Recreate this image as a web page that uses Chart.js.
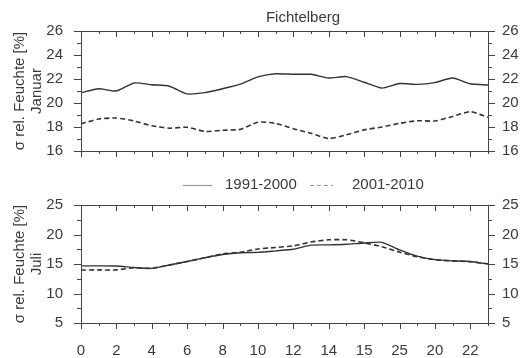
<!DOCTYPE html>
<html>
<head>
<meta charset="utf-8">
<script src="https://cdn.jsdelivr.net/npm/chart.js@4/dist/chart.umd.min.js"></script>
<style>
  html, body { margin: 0; padding: 0; background: #fff; }
  #wrap { position: relative; width: 528px; height: 358px; }
  canvas { position: absolute; left: 0; }
  #top { top: 0; }
  #bottom { top: 178px; }
</style>
</head>
<body>
<div id="wrap">
  <canvas id="top" width="528" height="178"></canvas>
  <canvas id="bottom" width="528" height="180"></canvas>
</div>
<script>
// Stunden 0..23
const hours = [0,1,2,3,4,5,6,7,8,9,10,11,12,13,14,15,16,17,18,19,20,21,22,23];
// Beschriftung der x-Achse (so wie im Original, inkl. "15" und "25")
const xTickLabels = ['0','2','4','6','8','10','12','14','15','25','20','22'];

const seriesLabels = ['1991-2000', '2001-2010'];

// Januar
const janOld = [20.86,21.19,21.0,21.67,21.52,21.4,20.76,20.86,21.19,21.57,22.18,22.44,
                22.39,22.39,22.08,22.2,21.73,21.24,21.62,21.55,21.7,22.08,21.6,21.5];
const janNew = [18.26,18.67,18.75,18.5,18.1,17.9,17.98,17.63,17.73,17.8,18.4,18.3,
                17.86,17.48,17.04,17.35,17.76,18.0,18.3,18.52,18.5,18.88,19.28,18.82];

// Juli
const julOld = [14.68,14.68,14.65,14.4,14.26,14.84,15.43,16.06,16.6,16.9,16.97,17.23,
                17.5,18.19,18.24,18.35,18.56,18.67,17.4,16.33,15.74,15.53,15.43,15.0];
const julNew = [13.99,14.0,14.0,14.36,14.26,14.84,15.43,16.06,16.7,17.0,17.55,17.8,
                18.08,18.72,19.1,19.1,18.6,17.93,17.02,16.22,15.74,15.53,15.37,15.05];

const INK = '#3a3a3a';
const FONT = "'Liberation Sans', Arial, sans-serif";

// Rahmen und Striche (innen oben, außen unten, außen links/rechts)
const frameTicks = {
    id: 'frameTicks',
    afterDraw(chart) {
        const ctx = chart.ctx;
        const a = chart.chartArea;
        const xs = chart.scales.x;
        const ys = chart.scales.y;
        ctx.save();
        ctx.strokeStyle = '#444';
        ctx.lineWidth = 1;
        ctx.strokeRect(Math.round(a.left) + 0.5, Math.round(a.top) + 0.5,
            Math.round(a.right - a.left), Math.round(a.bottom - a.top));
        ctx.beginPath();
        xs.ticks.forEach(t => {
            const px = Math.round(xs.getPixelForValue(t.value)) + 0.5;
            const len = t.value % 2 === 0 ? 6 : 3;
            ctx.moveTo(px, a.top);
            ctx.lineTo(px, a.top + len);
            ctx.moveTo(px, a.bottom);
            ctx.lineTo(px, a.bottom + len);
        });
        const yt = ys.ticks.map(t => t.value);
        yt.forEach((v, i) => {
            const py = Math.round(ys.getPixelForValue(v)) + 0.5;
            ctx.moveTo(a.left - 7, py);
            ctx.lineTo(a.left, py);
            ctx.moveTo(a.right, py);
            ctx.lineTo(a.right + 7, py);
            if (i < yt.length - 1) {
                const pm = Math.round(ys.getPixelForValue((v + yt[i + 1]) / 2)) + 0.5;
                ctx.moveTo(a.left - 4, pm);
                ctx.lineTo(a.left, pm);
                ctx.moveTo(a.right, pm);
                ctx.lineTo(a.right + 4, pm);
            }
        });
        ctx.stroke();
        ctx.restore();
    }
};

function makeDatasets(oldVals, newVals) {
    return [
        {
            label: seriesLabels[0],
            data: oldVals,
            borderColor: '#333',
            borderWidth: 1.4,
            pointRadius: 0,
            tension: 0.2,
            fill: false
        },
        {
            label: seriesLabels[1],
            data: newVals,
            borderColor: '#333',
            borderWidth: 1.6,
            borderDash: [5, 3],
            pointRadius: 0,
            tension: 0.2,
            fill: false
        }
    ];
}

function makeOptions(cfg) {
    const yTicks = {
        color: INK,
        font: { family: FONT, size: 15 },
        stepSize: cfg.step
    };
    return {
        responsive: false,
        animation: false,
        layout: { padding: { top: cfg.padTop, left: 0, right: 0, bottom: 0 } },
        plugins: { legend: { display: false }, tooltip: { enabled: false } },
        scales: {
            x: {
                type: 'linear',
                min: 0,
                max: 23,
                grid: { display: false, drawTicks: false },
                border: { display: false },
                ticks: {
                    display: cfg.showX,
                    stepSize: 1,
                    autoSkip: false,
                    maxRotation: 0,
                    padding: 19,
                    color: INK,
                    font: { family: FONT, size: 15 },
                    callback: v => (v % 2 === 0 ? xTickLabels[v / 2] : '')
                },
                afterFit: s => { s.height = cfg.xHeight; }
            },
            y: {
                position: 'left',
                min: cfg.min,
                max: cfg.max,
                grid: { display: false, drawTicks: false },
                border: { display: false },
                ticks: Object.assign({ padding: 18 }, yTicks),
                title: {
                    display: true,
                    text: ['σ rel. Feuchte [%]', cfg.month],
                    color: INK,
                    font: { family: FONT, size: 15, lineHeight: 1.17 },
                    padding: { top: 11, bottom: 0 }
                },
                afterFit: s => { s.width = 81; }
            },
            y2: {
                position: 'right',
                min: cfg.min,
                max: cfg.max,
                grid: { display: false, drawTicks: false },
                border: { display: false },
                ticks: Object.assign({ padding: 14 }, yTicks),
                afterFit: s => { s.width = 40; }
            }
        }
    };
}

// Titel oben
const titlePlugin = {
    id: 'stationTitle',
    afterDraw(chart) {
        const ctx = chart.ctx;
        ctx.save();
        ctx.fillStyle = INK;
        ctx.font = '15px ' + FONT;
        ctx.textAlign = 'center';
        ctx.textBaseline = 'middle';
        ctx.fillText('Fichtelberg', 303, 18);
        ctx.restore();
    }
};

// Legende zwischen den Panels
const legendPlugin = {
    id: 'midLegend',
    afterDraw(chart) {
        const ctx = chart.ctx;
        const items = [
            { x1: 183, x2: 212, tx: 225, dash: [] },
            { x1: 310, x2: 333, tx: 352, dash: [4, 3] }
        ];
        ctx.save();
        ctx.font = '15px ' + FONT;
        ctx.textBaseline = 'middle';
        ctx.textAlign = 'left';
        items.forEach((it, i) => {
            ctx.strokeStyle = '#999';
            ctx.lineWidth = 1.2;
            ctx.setLineDash(it.dash);
            ctx.beginPath();
            ctx.moveTo(it.x1, 7.5);
            ctx.lineTo(it.x2, 7.5);
            ctx.stroke();
            ctx.fillStyle = INK;
            ctx.fillText(chart.data.datasets[i].label, it.tx, 7);
        });
        ctx.restore();
    }
};

new Chart(document.getElementById('top'), {
    type: 'line',
    data: { labels: hours, datasets: makeDatasets(janOld, janNew) },
    options: makeOptions({ min: 16, max: 26, step: 2, month: 'Januar', padTop: 31, xHeight: 16, showX: false }),
    plugins: [frameTicks, titlePlugin]
});

new Chart(document.getElementById('bottom'), {
    type: 'line',
    data: { labels: hours, datasets: makeDatasets(julOld, julNew) },
    options: makeOptions({ min: 5, max: 25, step: 5, month: 'Juli', padTop: 20, xHeight: 35, showX: true }),
    plugins: [frameTicks, legendPlugin]
});
</script>
</body>
</html>
